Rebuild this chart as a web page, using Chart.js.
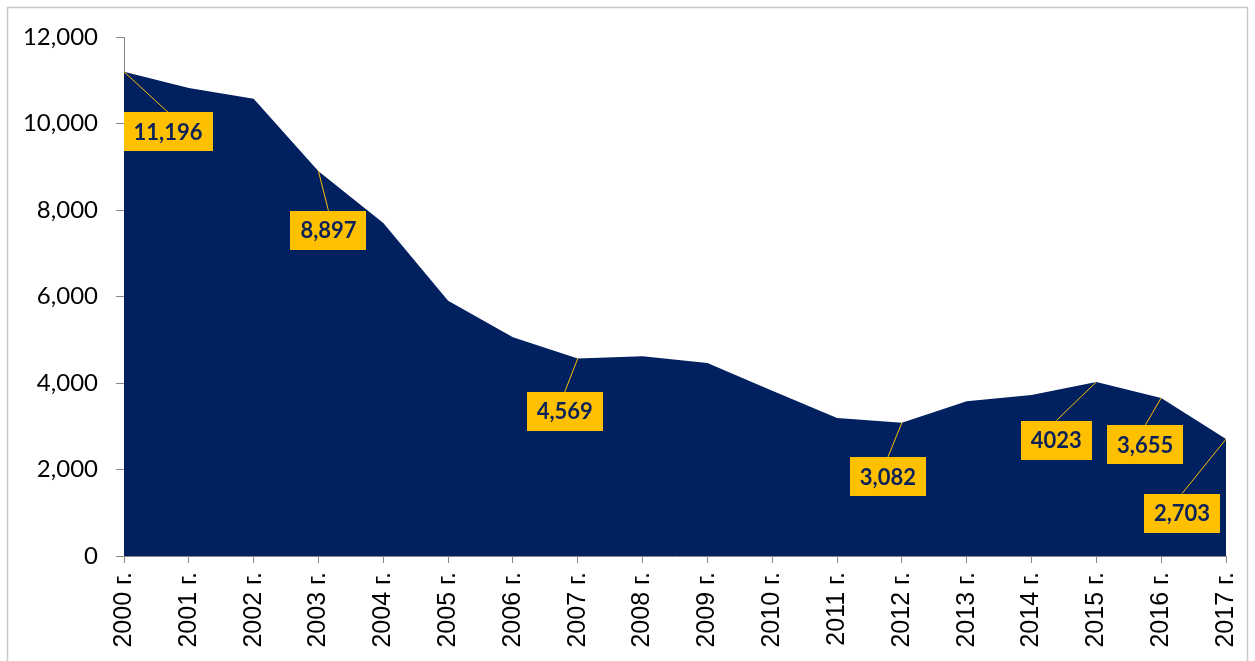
<!DOCTYPE html>
<html>
<head>
<meta charset="utf-8">
<script src="https://cdn.jsdelivr.net/npm/chart.js@4.4.1/dist/chart.umd.min.js"></script>
<style>
  html, body { margin: 0; padding: 0; background: #fff; }
  #wrap { width: 1255px; height: 661px; position: relative; }
</style>
</head>
<body>
<div id="wrap"><canvas id="c"></canvas></div>
<script>
// ---- data ----
const categories = ["2000 г.","2001 г.","2002 г.","2003 г.","2004 г.","2005 г.","2006 г.","2007 г.","2008 г.","2009 г.",
                    "2010 г.","2011 г.","2012 г.","2013 г.","2014 г.","2015 г.","2016 г.","2017 г."];
const values = [11196, 10820, 10570, 8897, 7700, 5900, 5060, 4569, 4620, 4460, 3820, 3190, 3082, 3580, 3720, 4023, 3655, 2703];
const labelIndices = [0, 3, 7, 12, 15, 16, 17];
const labelTexts = ["11,196", "8,897", "4,569", "3,082", "4023", "3,655", "2,703"];
const yTicks = [0, 2000, 4000, 6000, 8000, 10000, 12000];

// ---- styles (label box centre offsets from the data point, in px) ----
const labelOffsets = [[44, 60], [10, 59], [-13, 53], [-14, 54], [-40, 58], [-16, 47], [-44, 74]];

const frame = {
  id: 'frame',
  beforeDraw(chart) {
    const ctx = chart.ctx;
    ctx.save();
    ctx.fillStyle = '#ffffff';
    ctx.fillRect(0, 0, chart.width, chart.height);
    ctx.strokeStyle = '#c8c8c8';
    ctx.lineWidth = 1.5;
    ctx.strokeRect(7.5, 7.5, chart.width - 15, chart.height + 20);
    ctx.restore();
  }
};

const callouts = {
  id: 'callouts',
  afterDatasetsDraw(chart) {
    const ctx = chart.ctx;
    const meta = chart.getDatasetMeta(0);
    ctx.save();
    ctx.font = 'bold 22px Lato';
    ctx.textAlign = 'center';
    ctx.textBaseline = 'middle';
    labelIndices.forEach((idx, k) => {
      const pt = meta.data[idx];
      const cx = pt.x + labelOffsets[k][0];
      const cy = pt.y + labelOffsets[k][1];
      const txt = labelTexts[k];
      const w = ctx.measureText(txt).width + 20;
      const h = 39;
      ctx.strokeStyle = '#FFC000';
      ctx.lineWidth = 1;
      ctx.beginPath();
      ctx.moveTo(pt.x, pt.y);
      ctx.lineTo(cx, cy - h / 2);
      ctx.stroke();
      ctx.fillStyle = '#FFC000';
      ctx.fillRect(Math.round(cx - w / 2), Math.round(cy - h / 2), Math.round(w), h);
      ctx.fillStyle = '#0b2159';
      ctx.fillText(txt, cx, cy + 1);
    });
    ctx.restore();
  }
};

new Chart(document.getElementById('c'), {
  type: 'line',
  data: {
    labels: categories,
    datasets: [{
      data: values,
      fill: 'origin',
      backgroundColor: '#002060',
      borderColor: '#002060',
      borderWidth: 0,
      pointRadius: 0,
      tension: 0
    }]
  },
  options: {
    responsive: true,
    maintainAspectRatio: false,
    animation: false,
    layout: { padding: { left: 0, top: 37, right: 29, bottom: 0 } },
    plugins: { legend: { display: false }, tooltip: { enabled: false } },
    scales: {
      x: {
        type: 'category',
        offset: false,
        grid: { display: true, drawOnChartArea: false, drawTicks: true, tickLength: 7, color: '#868686' },
        border: { display: true, color: '#868686', width: 1 },
        ticks: {
          autoSkip: false, minRotation: 90, maxRotation: 90, padding: 9,
          color: '#000', font: { family: 'Liberation Sans', size: 25 }
        },
        afterFit(s) { s.height = 105; s.paddingLeft = 0; s.paddingRight = 0; }
      },
      y: {
        min: 0, max: 12000,
        afterBuildTicks(s) { s.ticks = yTicks.map(v => ({ value: v })); },
        grid: { display: true, drawOnChartArea: false, drawTicks: true, tickLength: 8, color: '#868686' },
        border: { display: true, color: '#868686', width: 1 },
        ticks: {
          padding: 18, color: '#000',
          font: { family: 'Lato', size: 24 },
          callback: v => v.toLocaleString('en-US')
        },
        afterFit(s) { s.width = 124; s.paddingTop = 0; s.paddingBottom = 0; }
      }
    }
  },
  plugins: [frame, callouts]
});
</script>
</body>
</html>
